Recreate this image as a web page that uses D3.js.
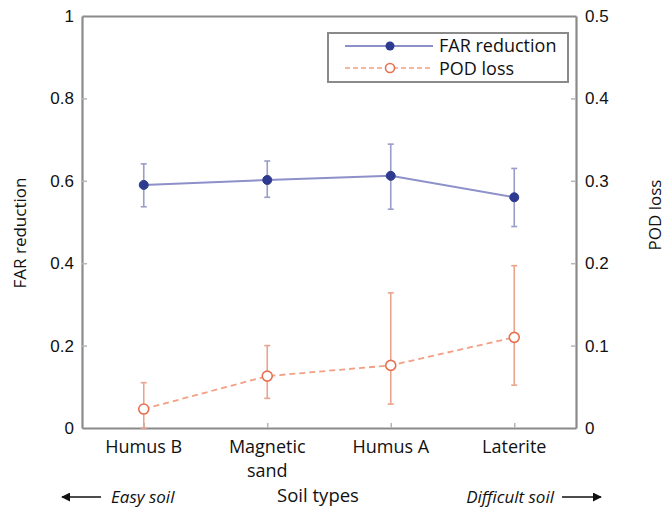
<!DOCTYPE html>
<html>
<head>
<meta charset="utf-8">
<script src="https://cdn.jsdelivr.net/npm/d3@7"></script>
<style>
  html, body { margin: 0; padding: 0; background: #fff; }
  svg { display: block; font-family: "Open Sans", "Noto Sans", sans-serif; }
</style>
</head>
<body>
<svg id="chart" width="669" height="509"></svg>
<script>
// Soil categories, ordered from easy to difficult
const categories = ["Humus B", "Magnetic sand", "Humus A", "Laterite"];
const categoryLines = [["Humus B"], ["Magnetic", "sand"], ["Humus A"], ["Laterite"]];

// FAR reduction (left axis): mean with lower / upper error bounds
const farMean  = [0.590, 0.602, 0.612, 0.560];
const farLow   = [0.537, 0.560, 0.531, 0.489];
const farHigh  = [0.641, 0.648, 0.689, 0.630];

// POD loss (right axis): mean with lower / upper error bounds
const podMean  = [0.023, 0.063, 0.076, 0.110];
const podLow   = [0.000, 0.036, 0.029, 0.052];
const podHigh  = [0.055, 0.100, 0.164, 0.197];

const leftTicks  = [0, 0.2, 0.4, 0.6, 0.8, 1];
const rightTicks = [0, 0.1, 0.2, 0.3, 0.4, 0.5];

const svg = d3.select("#chart");
const m = { left: 82, right: 576, top: 16, bottom: 428 };

const x = d3.scaleLinear().domain([0.5, categories.length + 0.5]).range([m.left, m.right]);
const yL = d3.scaleLinear().domain([0, 1]).range([m.bottom, m.top]);
const yR = d3.scaleLinear().domain([0, 0.5]).range([m.bottom, m.top]);

const frame = "#8a8a8a";
const blueLine = "#8d90c9", blueDot = "#2e3a8f", blueErr = "#9a9dc8";
const orange = "#f2a083", orangeErr = "#eaa48e", orangeDot = "#e8704f";

// Axes with inward ticks
const gL = svg.append("g").attr("transform", `translate(${m.left},0)`)
  .call(d3.axisLeft(yL).tickValues(leftTicks).tickFormat(d3.format("~g")).tickSizeInner(-5).tickSizeOuter(0).tickPadding(8));
const gR = svg.append("g").attr("transform", `translate(${m.right},0)`)
  .call(d3.axisRight(yR).tickValues(rightTicks).tickFormat(d3.format("~g")).tickSizeInner(-5).tickSizeOuter(0).tickPadding(9));
const gB = svg.append("g").attr("transform", `translate(0,${m.bottom})`)
  .call(d3.axisBottom(x).tickValues(d3.range(1, categories.length + 1)).tickFormat("").tickSizeInner(-5).tickSizeOuter(0));
const gT = svg.append("g").attr("transform", `translate(0,${m.top})`)
  .call(d3.axisTop(x).tickValues([]).tickSizeOuter(0));

[gL, gR, gB, gT].forEach(g => {
  g.select(".domain").attr("stroke", frame).attr("stroke-width", 2.2);
  g.selectAll(".tick line").attr("stroke", "#b5b5b5").attr("stroke-width", 1.5);
  g.selectAll(".tick text").attr("fill", "#111").style("font-size", "17px");
});
gL.selectAll(".tick").filter(d => d === 0 || d === 1).select("line").remove();
gR.selectAll(".tick").filter(d => d === 0 || d === 0.5).select("line").remove();

// Category labels (multi-line)
const catG = svg.append("g");
categoryLines.forEach((lines, i) => {
  const t = catG.append("text").attr("x", x(i + 1)).attr("y", 453)
    .attr("text-anchor", "middle").attr("fill", "#111").style("font-size", "18px");
  lines.forEach((ln, j) => t.append("tspan").attr("x", x(i + 1)).attr("dy", j === 0 ? 0 : 24).text(ln));
});

// Axis titles
svg.append("text").attr("transform", `translate(26,233) rotate(-90)`)
  .attr("text-anchor", "middle").attr("fill", "#111").style("font-size", "17px").text("FAR reduction");
svg.append("text").attr("transform", `translate(661,215) rotate(-90)`)
  .attr("text-anchor", "middle").attr("fill", "#111").style("font-size", "17px").text("POD loss");
svg.append("text").attr("x", 318).attr("y", 502).attr("text-anchor", "middle")
  .attr("fill", "#111").style("font-size", "18.5px").text("Soil types");

// Direction hints with arrows
svg.append("defs").append("marker").attr("id", "arrow").attr("viewBox", "0 0 10 10")
  .attr("refX", 9).attr("refY", 5).attr("markerWidth", 9).attr("markerHeight", 9)
  .attr("markerUnits", "userSpaceOnUse").attr("orient", "auto")
  .append("path").attr("d", "M0,0 L10,5 L0,10 Z").attr("fill", "#111");
svg.append("line").attr("x1", 101).attr("y1", 497).attr("x2", 62).attr("y2", 497)
  .attr("stroke", "#111").attr("stroke-width", 1.3).attr("marker-end", "url(#arrow)");
svg.append("line").attr("x1", 562).attr("y1", 497).attr("x2", 601).attr("y2", 497)
  .attr("stroke", "#111").attr("stroke-width", 1.3).attr("marker-end", "url(#arrow)");
svg.append("text").attr("x", 111).attr("y", 503).attr("fill", "#111")
  .style("font-size", "17px").style("font-style", "italic").text("Easy soil");
svg.append("text").attr("x", 554).attr("y", 503).attr("text-anchor", "end").attr("fill", "#111")
  .style("font-size", "17px").style("font-style", "italic").text("Difficult soil");

// Error bars helper
function errorBars(low, high, yScale, color) {
  const g = svg.append("g").attr("stroke", color).attr("stroke-width", 1.6);
  categories.forEach((c, i) => {
    const cx = x(i + 1);
    g.append("line").attr("x1", cx).attr("x2", cx).attr("y1", yScale(low[i])).attr("y2", yScale(high[i]));
    [low[i], high[i]].forEach(v => {
      g.append("line").attr("x1", cx - 3).attr("x2", cx + 3).attr("y1", yScale(v)).attr("y2", yScale(v));
    });
  });
}

// POD loss series
errorBars(podLow, podHigh, yR, orangeErr);
svg.append("path").datum(podMean)
  .attr("d", d3.line().x((d, i) => x(i + 1)).y(d => yR(d)))
  .attr("fill", "none").attr("stroke", orange).attr("stroke-width", 1.8).attr("stroke-dasharray", "6,4");
svg.append("g").selectAll("circle").data(podMean).join("circle")
  .attr("cx", (d, i) => x(i + 1)).attr("cy", d => yR(d)).attr("r", 5)
  .attr("fill", "#fff").attr("stroke", orangeDot).attr("stroke-width", 1.6);

// FAR reduction series
errorBars(farLow, farHigh, yL, blueErr);
svg.append("path").datum(farMean)
  .attr("d", d3.line().x((d, i) => x(i + 1)).y(d => yL(d)))
  .attr("fill", "none").attr("stroke", blueLine).attr("stroke-width", 2);
svg.append("g").selectAll("circle").data(farMean).join("circle")
  .attr("cx", (d, i) => x(i + 1)).attr("cy", d => yL(d)).attr("r", 4.5)
  .attr("fill", blueDot).attr("stroke", blueDot);

// Legend
const lg = svg.append("g");
lg.append("rect").attr("x", 328).attr("y", 33).attr("width", 240).attr("height", 49)
  .attr("fill", "#fff").attr("stroke", "#8a8a8a").attr("stroke-width", 2);
lg.append("line").attr("x1", 345).attr("x2", 433).attr("y1", 46).attr("y2", 46)
  .attr("stroke", blueLine).attr("stroke-width", 2);
lg.append("circle").attr("cx", 390).attr("cy", 46).attr("r", 4.5).attr("fill", blueDot);
lg.append("text").attr("x", 439).attr("y", 52).attr("fill", "#111").style("font-size", "18px").text("FAR reduction");
lg.append("line").attr("x1", 345).attr("x2", 433).attr("y1", 68).attr("y2", 68)
  .attr("stroke", orange).attr("stroke-width", 1.5).attr("stroke-dasharray", "5,3");
lg.append("circle").attr("cx", 390).attr("cy", 68).attr("r", 4.5)
  .attr("fill", "#fff").attr("stroke", orangeDot).attr("stroke-width", 1.6);
lg.append("text").attr("x", 439).attr("y", 75).attr("fill", "#111").style("font-size", "18px").text("POD loss");
</script>
</body>
</html>
